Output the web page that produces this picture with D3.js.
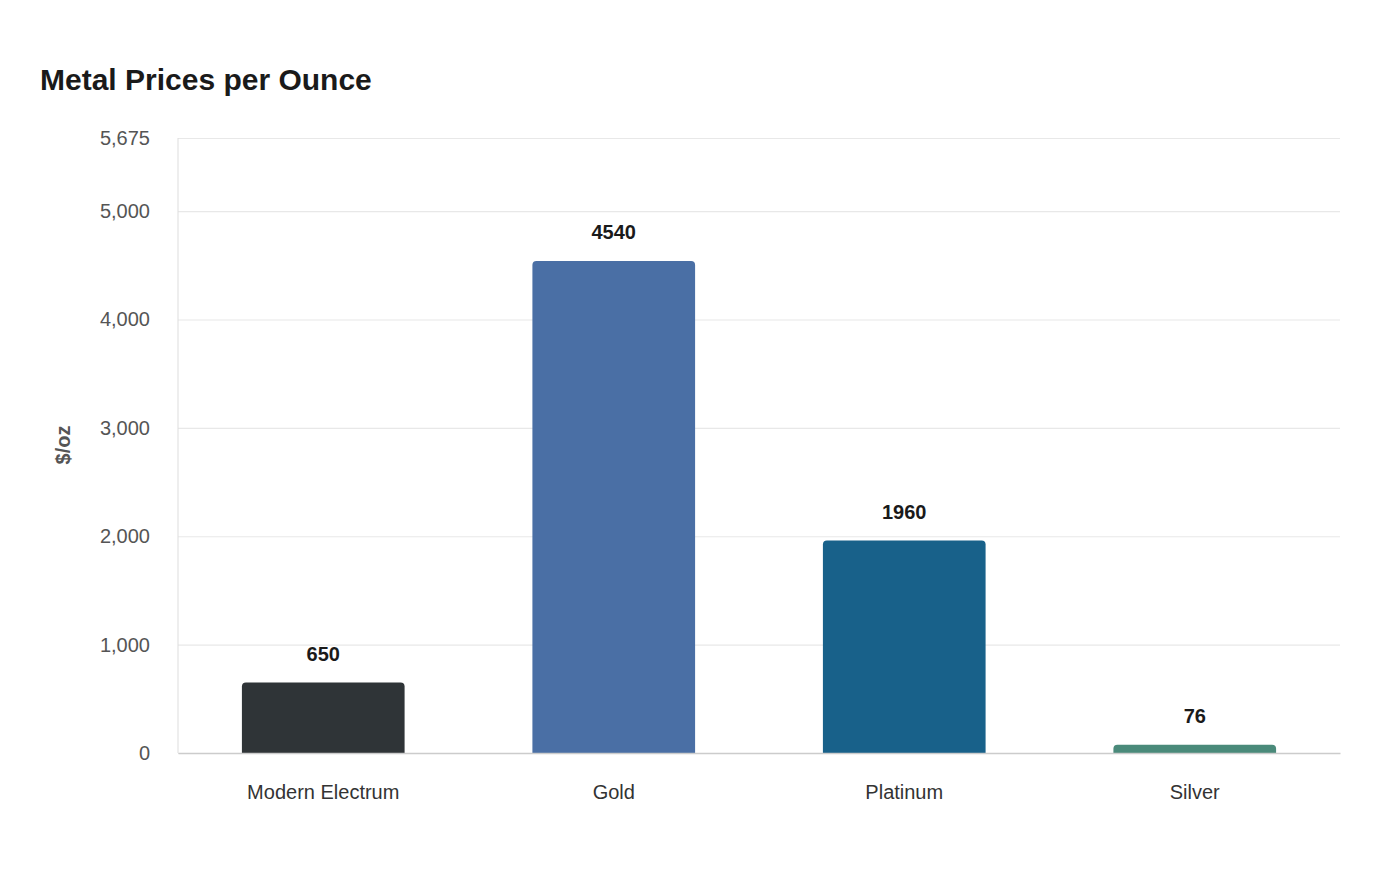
<!DOCTYPE html>
<html><head><meta charset="utf-8">
<script src="https://cdn.jsdelivr.net/npm/d3@7"></script>
<style>body{margin:0;background:#fff;font-family:"Liberation Sans",Arial,sans-serif}</style>
</head><body><svg id="c" width="1400" height="880"></svg>
<script>
const categories = ["Modern Electrum","Gold","Platinum","Silver"];
const values = [650,4540,1960,76];
const colors = ["#2f3437","#4a6fa5","#18618a","#4a8a7a"];
const yTicks = [0,1000,2000,3000,4000,5000,5675];

const svg = d3.select("#c");
const m = {l:178, r:1340, t:138, b:753};
const x = d3.scaleBand().domain(categories).range([m.l,m.r]).paddingInner(0.44).paddingOuter(0.22);
const y = d3.scaleLinear().domain([0,5675]).range([m.b,m.t]);

svg.append("text").attr("x",40).attr("y",90).attr("font-size",30).attr("font-weight","bold").attr("fill","#1a1a1a").text("Metal Prices per Ounce");

const ga = svg.append("g").attr("transform",`translate(${m.l},0)`)
  .call(d3.axisLeft(y).tickValues(yTicks).tickFormat(d3.format(",")).tickSize(-(m.r-m.l)).tickPadding(28));
ga.select(".domain").remove();
ga.selectAll(".tick line").attr("stroke","#e8e8e8").attr("stroke-width",1.2);
ga.selectAll(".tick text").attr("font-size",20).attr("fill","#555").attr("font-family","Liberation Sans, Arial, sans-serif");
svg.append("line").attr("x1",m.l).attr("x2",m.l).attr("y1",m.t).attr("y2",m.b).attr("stroke","#ddd");

svg.append("text").attr("transform","translate(70,445) rotate(-90)").attr("text-anchor","middle")
  .attr("font-size",20).attr("font-weight","bold").attr("fill","#555").text("$/oz");

const r = 4;
svg.selectAll("path.bar").data(values).join("path").attr("class","bar")
  .attr("fill",(d,i)=>colors[i])
  .attr("d",(d,i)=>{
    const x0=x(categories[i]), w=x.bandwidth(), y0=y(d), y1=y(0);
    const rr=Math.min(r,(y1-y0));
    return `M${x0},${y1}V${y0+rr}Q${x0},${y0} ${x0+rr},${y0}H${x0+w-rr}Q${x0+w},${y0} ${x0+w},${y0+rr}V${y1}Z`;
  });

const gx = svg.append("g").attr("transform",`translate(0,${m.b})`).call(d3.axisBottom(x).tickSize(0).tickPadding(32));
gx.select(".domain").attr("stroke","#ccc").attr("stroke-width",1.5);
gx.selectAll(".tick text").attr("font-size",20).attr("fill","#333").attr("font-family","Liberation Sans, Arial, sans-serif");

svg.selectAll("text.val").data(values).join("text").attr("class","val")
  .attr("x",(d,i)=>x(categories[i])+x.bandwidth()/2).attr("y",d=>y(d)-22)
  .attr("text-anchor","middle").attr("font-size",20).attr("font-weight","bold").attr("fill","#1a1a1a").text(d=>d);
</script></body></html>
